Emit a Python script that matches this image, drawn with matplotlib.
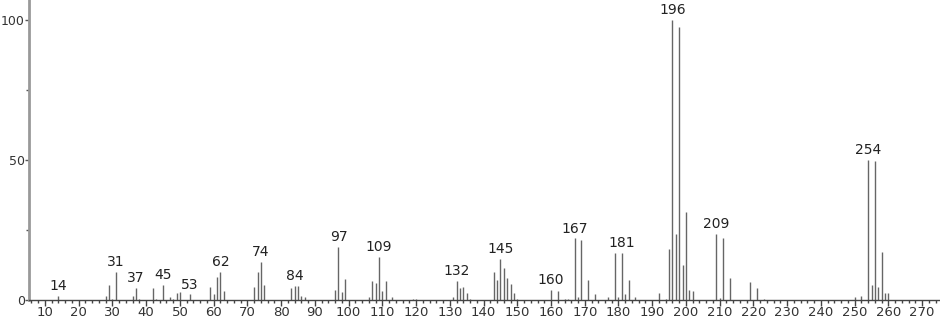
import matplotlib
matplotlib.use("Agg")
import matplotlib.pyplot as plt
from matplotlib.ticker import MultipleLocator

# m/z values and relative intensities
mz = [14, 28, 29, 30, 31, 36, 37, 38, 42, 43, 45, 47, 48, 49, 50, 53,
      59, 60, 61, 62, 63, 72, 73, 74, 75, 83, 84, 85, 86, 87,
      96, 97, 98, 99, 106, 107, 108, 109, 110, 111, 113, 119, 120,
      131, 132, 133, 134, 135, 136, 143, 144, 145, 146, 147, 148, 149, 150,
      160, 162, 164, 165, 167, 168, 169, 171, 173, 177, 179, 180, 181, 182, 183, 185,
      192, 194, 195, 196, 197, 198, 199, 200, 201, 202,
      209, 210, 211, 213, 219, 221, 223,
      250, 252, 254, 255, 256, 257, 258, 259, 260]
intensity = [1.5, 1.4, 5.4, 0.5, 10.1, 1.4, 4.2, 0.5, 4.2, 0.5, 5.4, 1.0, 0.5, 2.4, 2.7, 2.0,
             4.8, 2.3, 8.2, 10.1, 3.3, 4.8, 10.0, 13.6, 5.2, 4.4, 5.1, 5.1, 1.4, 1.0,
             3.6, 19.0, 2.7, 7.6, 1.0, 6.8, 6.2, 15.4, 3.3, 6.8, 1.2, 0.5, 0.5,
             1.2, 6.8, 4.4, 4.8, 2.6, 0.5, 10.0, 7.1, 14.6, 11.4, 8.0, 5.7, 2.5, 0.5,
             3.6, 3.2, 0.4, 0.4, 22.0, 1.2, 21.4, 7.1, 2.0, 1.2, 16.7, 1.2, 16.9, 2.0, 7.1, 1.2,
             2.4, 0.5, 18.1, 100.0, 23.5, 97.6, 12.5, 31.5, 3.6, 3.3,
             23.5, 0.8, 22.0, 8.0, 6.3, 4.4, 0.4,
             1.2, 1.3, 50.0, 5.2, 49.6, 4.8, 17.0, 2.4, 2.6]
labelled = [14, 31, 37, 45, 53, 62, 74, 84, 97, 109, 132, 145, 160, 167, 181, 196, 209, 254]

x_ticks = list(range(10, 271, 10))
y_ticks = [0, 50, 100]

fig = plt.figure(figsize=(9.4, 3.22), dpi=100)
ax = fig.add_axes([29/940, 22/322, 911/940, 300/322])

ax.vlines(mz, 0, intensity, colors="#666666", linewidth=1.0)

lookup = dict(zip(mz, intensity))
for m in labelled:
    ax.text(m, lookup[m] + 1.0, str(m), ha="center", va="bottom",
            fontsize=10, color="#222222")

ax.set_xlim(5.26, 275.3)
ax.set_ylim(0, 107.1)

ax.set_xticks(x_ticks)
ax.set_xticklabels([str(t) for t in x_ticks])
ax.xaxis.set_minor_locator(MultipleLocator(2))
ax.set_yticks(y_ticks)
ax.set_yticklabels([str(t) for t in y_ticks])
ax.yaxis.set_minor_locator(MultipleLocator(25))

for s in ("top", "right"):
    ax.spines[s].set_visible(False)
ax.spines["bottom"].set_color("#444444")
ax.spines["bottom"].set_linewidth(1.0)
ax.spines["left"].set_color("#999999")
ax.spines["left"].set_linewidth(2.0)

ax.tick_params(axis="x", which="major", length=4, width=1, color="#444444",
               labelsize=9.5, labelcolor="#333333", pad=0.5)
ax.tick_params(axis="x", which="minor", length=2.5, width=1, color="#444444")
ax.tick_params(axis="y", which="major", length=3, width=1, color="#555555",
               labelsize=9, labelcolor="#333333", pad=0)
ax.tick_params(axis="y", which="minor", length=2.5, width=1, color="#555555")

fig.savefig("out.png", dpi=100)
